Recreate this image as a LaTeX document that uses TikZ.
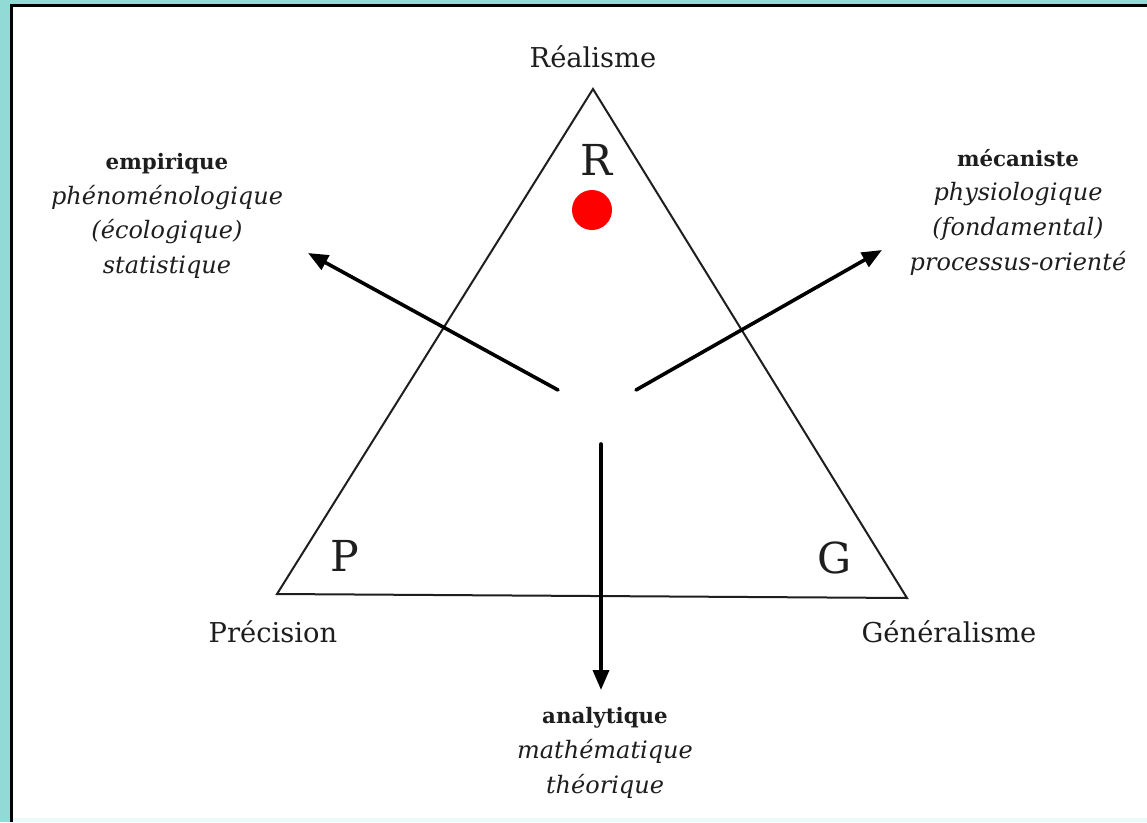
\documentclass[tikz,border=0pt]{standalone}
\usepackage{fontspec}
\setmainfont{DejaVu Serif}
\usetikzlibrary{arrows.meta}
\definecolor{framecol}{RGB}{145,218,214}
\definecolor{palecol}{RGB}{236,250,250}
\definecolor{inkcol}{RGB}{30,30,30}
\newcommand{\itline}[1]{{\itshape\fontsize{18}{26}\selectfont #1}}
\newcommand{\bfline}[1]{{\bfseries\fontsize{16}{26}\selectfont #1}}
\begin{document}
\begin{tikzpicture}[x=0.75pt,y=-0.75pt,
  lbl/.style={inner sep=0pt, text=inkcol, font=\fontsize{20.5}{22}\selectfont},
  letter/.style={inner sep=0pt, text=inkcol, font=\fontsize{32}{34}\selectfont},
  blk/.style={inner sep=0pt, align=center, text=inkcol, font=\fontsize{16}{26}\selectfont},
  arr/.style={line width=2.7pt, line cap=round, -{Triangle[length=15pt,width=12pt]}},
  tri/.style={line width=1.5pt, draw=inkcol, line join=miter}]
\useasboundingbox (0,0) rectangle (1147,822);
\fill[framecol] (0,0) rectangle (1147,822);
\fill[black] (10,4) rectangle (1147,822);
\fill[white] (13,7) rectangle (1147,818);
\fill[palecol] (13,818) rectangle (1147,822);
% triangle
\coordinate (apex) at (593,89);
\coordinate (pc) at (277,594);
\coordinate (gc) at (907,598);
\draw[tri] (apex) -- (pc) -- (gc) -- cycle;
% vertex labels
\node[lbl] (real) at (593,57) {Réalisme};
\node[lbl] (prec) at (273,632) {Précision};
\node[lbl] (gen) at (949,632) {Généralisme};
\node[letter] (R) at (597,160) {R};
\node[letter] (P) at (345,556) {P};
\node[letter] (G) at (835,558) {G};
\fill[red] (592,210) circle[radius=20] node (dot) {};
% text blocks
\node[blk] (emp) at (167,216) {\bfline{empirique}\\\itline{phénoménologique}\\\itline{(écologique)}\\\itline{statistique}};
\node[blk] (mec) at (1018,212) {\bfline{mécaniste}\\\itline{physiologique}\\\itline{(fondamental)}\\\itline{processus-orienté}};
\node[blk] (ana) at (605,753) {\bfline{analytique}\\\itline{mathématique}\\\itline{théorique}};
% arrows
\coordinate (ls) at (558,390);
\coordinate (le) at (308,253);
\coordinate (rs) at (636,390);
\coordinate (re) at (882,250);
\coordinate (ds) at (601,444);
\coordinate (de) at (601,690);
\draw[arr] (ls) -- (le);
\draw[arr] (rs) -- (re);
\draw[arr] (ds) -- (de);
\end{tikzpicture}
\end{document}
